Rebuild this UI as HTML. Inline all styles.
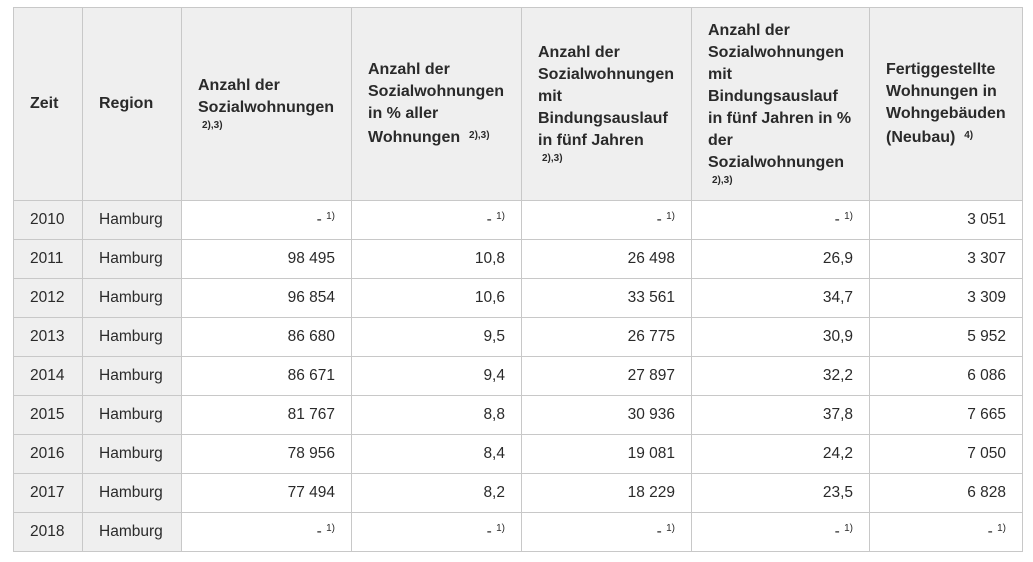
<!DOCTYPE html>
<html><head><meta charset="utf-8"><style>
body{margin:0;background:#fff;font-family:"Liberation Sans",Arial,sans-serif;color:#2a2a2a;}
table{position:absolute;left:13px;top:7px;border-collapse:collapse;table-layout:fixed;}
td,th{border:1px solid #c8c8c8;font-size:15.5px;padding:0 16px 0 16px;}
th{background:#efefef;font-weight:bold;font-size:16px;text-align:left;vertical-align:middle;line-height:22px;height:192px;}
td{height:38px;text-align:right;}
td.g{background:#efefef;text-align:left;}
.s{font-size:10px;font-weight:bold;vertical-align:4px;}
.sl{font-size:10px;font-weight:bold;display:block;line-height:14px;padding-left:4px;}
.f{font-size:10px;vertical-align:5px;}
</style></head><body>
<table>
<colgroup><col style="width:69px"><col style="width:99px"><col style="width:170px"><col style="width:170px"><col style="width:170px"><col style="width:178px"><col style="width:153px"></colgroup>
<tr>
<th>Zeit</th><th>Region</th>
<th>Anzahl der Sozialwohnungen<span class="sl">2),3)</span></th>
<th>Anzahl der Sozialwohnungen in % aller Wohnungen&nbsp; <span class="s">2),3)</span></th>
<th>Anzahl der Sozialwohnungen mit Bindungsauslauf in fünf Jahren<span class="sl">2),3)</span></th>
<th>Anzahl der Sozialwohnungen mit Bindungsauslauf in fünf Jahren in % der Sozialwohnungen<span class="sl">2),3)</span></th>
<th>Fertiggestellte Wohnungen in Wohngebäuden (Neubau)&nbsp; <span class="s">4)</span></th>
</tr>
<tr><td class="g">2010</td><td class="g">Hamburg</td><td>- <span class="f">1)</span></td><td>- <span class="f">1)</span></td><td>- <span class="f">1)</span></td><td>- <span class="f">1)</span></td><td>3 051</td></tr>
<tr><td class="g">2011</td><td class="g">Hamburg</td><td>98 495</td><td>10,8</td><td>26 498</td><td>26,9</td><td>3 307</td></tr>
<tr><td class="g">2012</td><td class="g">Hamburg</td><td>96 854</td><td>10,6</td><td>33 561</td><td>34,7</td><td>3 309</td></tr>
<tr><td class="g">2013</td><td class="g">Hamburg</td><td>86 680</td><td>9,5</td><td>26 775</td><td>30,9</td><td>5 952</td></tr>
<tr><td class="g">2014</td><td class="g">Hamburg</td><td>86 671</td><td>9,4</td><td>27 897</td><td>32,2</td><td>6 086</td></tr>
<tr><td class="g">2015</td><td class="g">Hamburg</td><td>81 767</td><td>8,8</td><td>30 936</td><td>37,8</td><td>7 665</td></tr>
<tr><td class="g">2016</td><td class="g">Hamburg</td><td>78 956</td><td>8,4</td><td>19 081</td><td>24,2</td><td>7 050</td></tr>
<tr><td class="g">2017</td><td class="g">Hamburg</td><td>77 494</td><td>8,2</td><td>18 229</td><td>23,5</td><td>6 828</td></tr>
<tr><td class="g">2018</td><td class="g">Hamburg</td><td>- <span class="f">1)</span></td><td>- <span class="f">1)</span></td><td>- <span class="f">1)</span></td><td>- <span class="f">1)</span></td><td>- <span class="f">1)</span></td></tr>
</table>
</body></html>
